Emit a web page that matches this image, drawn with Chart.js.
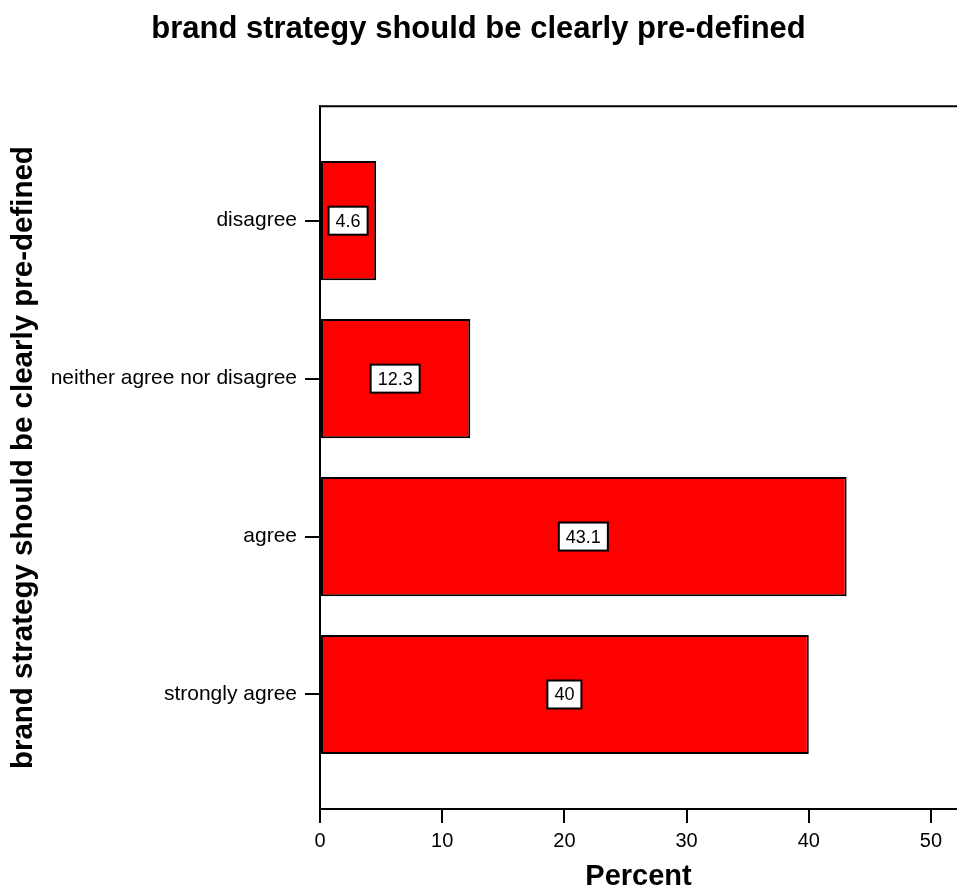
<!DOCTYPE html>
<html>
<head>
<meta charset="utf-8">
<title>brand strategy should be clearly pre-defined</title>
<script src="https://cdn.jsdelivr.net/npm/chart.js@4.4.1/dist/chart.umd.min.js"></script>
<style>
  html, body { margin: 0; padding: 0; background: #fff; overflow: hidden; }
  canvas { display: block; }
</style>
</head>
<body>
<canvas id="barChart" width="957" height="890"></canvas>
<script>
const categories = ['disagree', 'neither agree nor disagree', 'agree', 'strongly agree'];
const percentValues = [4.6, 12.3, 43.1, 40];
const valueLabels = ['4.6', '12.3', '43.1', '40'];
const xTickValues = [0, 10, 20, 30, 40, 50];

const fontFamily = 'Arial, "Liberation Sans", Helvetica, sans-serif';

// white boxed value label in the middle of each bar + top frame line
const valueBoxes = {
    id: 'valueBoxes',
    afterDatasetsDraw(chart) {
        const ctx = chart.ctx;
        const xScale = chart.scales.x;
        const yScale = chart.scales.y;
        ctx.save();
        ctx.font = '18px ' + fontFamily;
        ctx.textAlign = 'center';
        ctx.textBaseline = 'middle';
        percentValues.forEach((v, i) => {
            const cx = xScale.getPixelForValue(v / 2);
            const cy = yScale.getPixelForValue(i);
            const w = ctx.measureText(valueLabels[i]).width + 14;
            const h = 28;
            ctx.fillStyle = '#fff';
            ctx.fillRect(cx - w / 2, cy - h / 2, w, h);
            ctx.lineWidth = 2;
            ctx.strokeStyle = '#000';
            ctx.strokeRect(cx - w / 2, cy - h / 2, w, h);
            ctx.fillStyle = '#000';
            ctx.fillText(valueLabels[i], cx, cy + 1);
        });
        const area = chart.chartArea;
        ctx.beginPath();
        ctx.moveTo(area.left - 1, area.top);
        ctx.lineTo(area.right, area.top);
        ctx.stroke();
        ctx.restore();
    }
};

new Chart(document.getElementById('barChart').getContext('2d'), {
    type: 'bar',
    data: {
        datasets: [{
            label: 'Percent',
            data: percentValues.map((v, i) => ({ x: v, y: i })),
            backgroundColor: '#ff0000',
            borderColor: '#000',
            borderWidth: 2,
            borderSkipped: false,
            barPercentage: 0.755,
            categoryPercentage: 1
        }]
    },
    options: {
        indexAxis: 'y',
        responsive: false,
        animation: false,
        layout: { padding: 0 },
        plugins: {
            legend: { display: false },
            tooltip: { enabled: false },
            title: {
                display: true,
                text: 'brand strategy should be clearly pre-defined',
                color: '#000',
                font: { family: fontFamily, size: 31, weight: 'bold', lineHeight: 1.2 },
                padding: { top: 11, bottom: 58 }
            }
        },
        scales: {
            x: {
                type: 'linear',
                position: 'bottom',
                min: 0,
                max: 52.13,
                afterBuildTicks: s => { s.ticks = xTickValues.map(v => ({ value: v })); },
                afterFit: s => { s.height = 81; },
                ticks: {
                    color: '#000',
                    padding: 6,
                    font: { family: fontFamily, size: 20 }
                },
                grid: { drawOnChartArea: false, tickLength: 14, color: '#000', lineWidth: 2 },
                border: { color: '#000', width: 2 },
                title: {
                    display: true,
                    text: 'Percent',
                    color: '#000',
                    font: { family: fontFamily, size: 29, weight: 'bold', lineHeight: 0.9 },
                    padding: { top: 0, bottom: 0 }
                }
            },
            y: {
                type: 'linear',
                reverse: true,
                offset: false,
                min: -0.725,
                max: 3.725,
                afterBuildTicks: s => { s.ticks = categories.map((c, i) => ({ value: i })); },
                afterFit: s => { s.width = 320; },
                ticks: {
                    color: '#000',
                    padding: 8,
                    autoSkip: false,
                    font: { family: fontFamily, size: 21 },
                    callback: v => categories[v]
                },
                grid: { offset: false, drawOnChartArea: false, tickLength: 15, color: '#000', lineWidth: 2 },
                border: { color: '#000', width: 2 },
                title: {
                    display: true,
                    text: 'brand strategy should be clearly pre-defined',
                    color: '#000',
                    font: { family: fontFamily, size: 29.5, weight: 'bold', lineHeight: 1.2 },
                    padding: { top: 6, bottom: 0 }
                }
            }
        }
    },
    plugins: [valueBoxes]
});
</script>
</body>
</html>
